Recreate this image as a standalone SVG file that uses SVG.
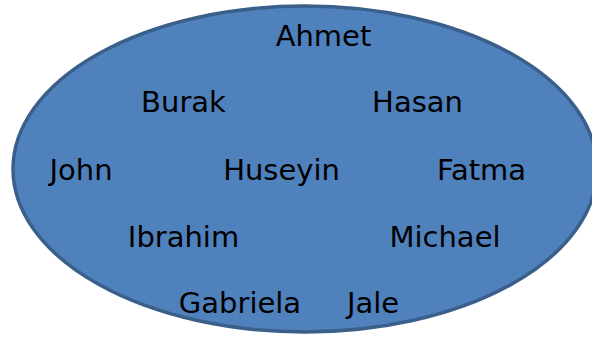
<svg xmlns="http://www.w3.org/2000/svg" width="592" height="340" viewBox="0 0 592 340">
<style>
.bg{fill:#4F81BD;stroke:#3A5F8B;stroke-width:3.5}
.lbl{font-family:"Comic Sans MS","DejaVu Sans",sans-serif;font-size:29px;fill:#000;text-anchor:middle}
</style>
<rect width="592" height="340" fill="#fff"/>
<g id="set">
<ellipse class="bg" cx="305" cy="169" rx="292" ry="163"/>
</g>
<g id="connectors"/>
<g id="n-ahmet"><text class="lbl" x="323.5" y="46">Ahmet</text></g>
<g id="n-burak"><text class="lbl" x="183.5" y="112">Burak</text></g>
<g id="n-hasan"><text class="lbl" x="417.5" y="112">Hasan</text></g>
<g id="n-john"><text class="lbl" x="81" y="180">John</text></g>
<g id="n-huseyin"><text class="lbl" x="281.5" y="180">Huseyin</text></g>
<g id="n-fatma"><text class="lbl" x="481.5" y="180">Fatma</text></g>
<g id="n-ibrahim"><text class="lbl" x="183.5" y="247">Ibrahim</text></g>
<g id="n-michael"><text class="lbl" x="445" y="247">Michael</text></g>
<g id="n-gabriela"><text class="lbl" x="240" y="313">Gabriela</text></g>
<g id="n-jale"><text class="lbl" x="373" y="313">Jale</text></g>
</svg>
